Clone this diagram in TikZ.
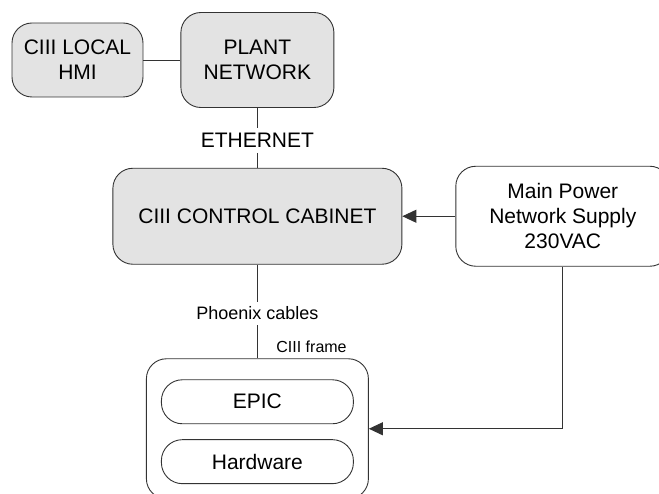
\documentclass[tikz,border=0pt]{standalone}
\usepackage{fontspec}
\setmainfont{Liberation Sans}
\usetikzlibrary{arrows.meta, positioning}

\begin{document}
\begin{tikzpicture}[
    box/.style={
        rectangle, rounded corners=20pt,
        text centered, align=center,
        font=\fontsize{21pt}{25pt}\selectfont,
        line width=0.9pt, draw=black!80
    },
    grey/.style ={box, fill=gray!22},
    plain/.style={box, fill=white},
    pill/.style ={box, rounded corners=21pt, minimum width=192pt, minimum height=44pt},
    lbl/.style={font=\fontsize{21pt}{25pt}\selectfont, inner sep=5pt},
    sublbl/.style={font=\fontsize{18pt}{22pt}\selectfont, inner sep=5pt},
    tag/.style={font=\fontsize{16pt}{19pt}\selectfont, inner sep=0pt},
    wire/.style={line width=0.9pt, draw=black!80},
    arr/.style={
        -{Triangle[length=14pt,width=13pt]},
        line width=0.9pt, draw=black!80
    },
]

\path[use as bounding box, clip] (0,0) rectangle (659pt,-494pt);

% TOP ROW
\node[grey, minimum width=131pt, minimum height=74pt] (hmi) at (77.5pt,-60pt) {CIII LOCAL\\HMI};
\node[grey, minimum width=153pt, minimum height=95pt, right=37pt of hmi] (plant) {PLANT\\NETWORK};
\draw[wire] (hmi) -- (plant);

% MIDDLE ROW
\node[lbl, below=20pt of plant] (eth) {ETHERNET};
\node[grey, minimum width=289pt, minimum height=96pt, below=15pt of eth] (cabinet) {CIII CONTROL CABINET};
\node[plain, minimum width=214pt, minimum height=100pt, right=53pt of cabinet] (power) {Main Power\\Network Supply\\230VAC};

\draw[wire] (plant) -- (eth);
\draw[wire] (eth) -- (cabinet);
\draw[arr] (power) -- (cabinet);

% FRAME
\node[sublbl, below=37pt of cabinet] (phx) {Phoenix cables};
\node[box, minimum width=222pt, minimum height=140pt, below=33pt of phx] (frame) {};
\node[tag, above left=5pt and 22pt of frame.north east] (frame-lbl) {CIII frame};

\node[pill, below=21pt of frame.north] (epic) {EPIC};
\node[pill, below=15pt of epic] (hw) {Hardware};

\draw[wire] (cabinet) -- (phx);
\draw[wire] (phx) -- (frame);
\draw[arr] (power.south) |- (frame.east);

\end{tikzpicture}
\end{document}
